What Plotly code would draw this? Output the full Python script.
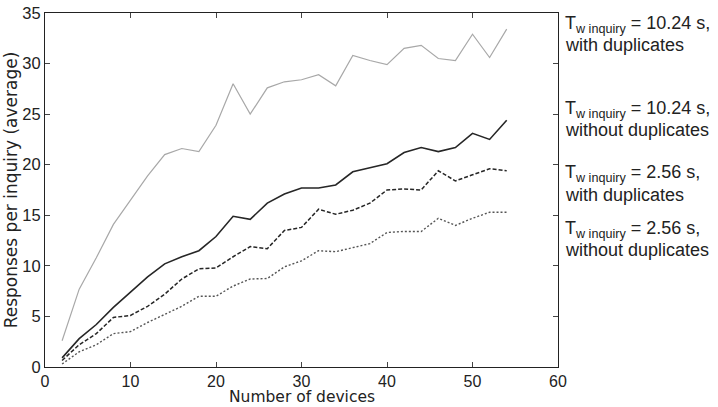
import plotly.graph_objects as go

devices = [2, 4, 6, 8, 10, 12, 14, 16, 18, 20, 22, 24, 26, 28, 30, 32, 34, 36, 38, 40, 42, 44, 46, 48, 50, 52, 54]

t1024_dup = [2.6, 7.7, 10.8, 14.1, 16.5, 18.9, 21.0, 21.6, 21.3, 23.9, 28.0, 25.0, 27.6, 28.2, 28.4, 28.9, 27.8, 30.8, 30.3, 29.9, 31.5, 31.8, 30.5, 30.3, 32.9, 30.6, 33.4]
t1024_nodup = [0.9, 2.8, 4.2, 5.9, 7.4, 8.9, 10.2, 10.9, 11.5, 12.9, 14.9, 14.6, 16.2, 17.1, 17.7, 17.7, 18.0, 19.3, 19.7, 20.1, 21.2, 21.7, 21.3, 21.7, 23.1, 22.5, 24.4]
t256_dup = [0.65, 2.2, 3.3, 4.9, 5.1, 6.0, 7.2, 8.7, 9.7, 9.8, 10.9, 11.9, 11.7, 13.5, 13.8, 15.6, 15.1, 15.5, 16.2, 17.5, 17.6, 17.5, 19.4, 18.4, 19.0, 19.6, 19.4]
t256_nodup = [0.3, 1.5, 2.2, 3.3, 3.5, 4.4, 5.2, 6.0, 7.0, 7.0, 8.0, 8.7, 8.75, 9.9, 10.5, 11.5, 11.4, 11.8, 12.2, 13.3, 13.4, 13.4, 14.7, 14.0, 14.7, 15.3, 15.3]

label_lines = [
    ("T<sub>w inquiry</sub> = 10.24 s,", "with duplicates"),
    ("T<sub>w inquiry</sub> = 10.24 s,", "without duplicates"),
    ("T<sub>w inquiry</sub> = 2.56 s,", "with duplicates"),
    ("T<sub>w inquiry</sub> = 2.56 s,", "without duplicates"),
]
label_y = [34.3, 25.9, 19.5, 14.0]

x_title = "Number of devices"
y_title = "Responses per inquiry (average)"

x_ticks = [0, 10, 20, 30, 40, 50, 60]
y_ticks = [0, 5, 10, 15, 20, 25, 30, 35]

fig = go.Figure()
fig.add_trace(go.Scatter(x=devices, y=t1024_dup, mode="lines",
                         line=dict(color="#a8a8a8", width=1.2), showlegend=False))
fig.add_trace(go.Scatter(x=devices, y=t1024_nodup, mode="lines",
                         line=dict(color="#262626", width=1.6), showlegend=False))
fig.add_trace(go.Scatter(x=devices, y=t256_dup, mode="lines",
                         line=dict(color="#262626", width=1.5, dash="4px,2px"), showlegend=False))
fig.add_trace(go.Scatter(x=devices, y=t256_nodup, mode="lines",
                         line=dict(color="#555555", width=1.4, dash="2px,2px"), showlegend=False))

font_main = "Liberation Sans, Arial, sans-serif"
font_wide = "DejaVu Sans, Verdana, sans-serif"
for (l1, l2), yv in zip(label_lines, label_y):
    fig.add_annotation(x=1.0, xref="paper", y=yv, yref="y", text=l1, showarrow=False,
                       xanchor="left", yanchor="middle", xshift=5, yshift=-4,
                       font=dict(size=18, color="#222", family=font_main))
    fig.add_annotation(x=1.0, xref="paper", y=yv, yref="y", text=l2, showarrow=False,
                       xanchor="left", yanchor="middle", xshift=5, yshift=-25,
                       font=dict(size=18, color="#222", family=font_main))

fig.add_annotation(x=0.5, xref="paper", y=0, yref="paper", text=x_title, showarrow=False,
                   xanchor="center", yanchor="middle", yshift=-30,
                   font=dict(size=15.5, color="#222", family=font_wide))

fig.update_layout(
    width=718, height=407,
    margin=dict(l=45, r=160, t=13, b=40),
    paper_bgcolor="white", plot_bgcolor="white",
    font=dict(family=font_main, size=16, color="#222"),
    xaxis=dict(range=[0, 60], tickvals=x_ticks, ticks="inside", ticklen=5,
               showline=True, linecolor="#222", linewidth=1.2, mirror="ticks",
               showgrid=False, zeroline=False, automargin=False,
               tickfont=dict(size=16, family=font_main)),
    yaxis=dict(range=[0, 35], tickvals=y_ticks, ticks="inside", ticklen=5,
               showline=True, linecolor="#222", linewidth=1.2, mirror="ticks",
               showgrid=False, zeroline=False, automargin=False,
               tickfont=dict(size=16.5, family=font_main),
               title=dict(text=y_title, standoff=0,
                          font=dict(size=17, family=font_wide))),
)

fig.write_html("out.html")
